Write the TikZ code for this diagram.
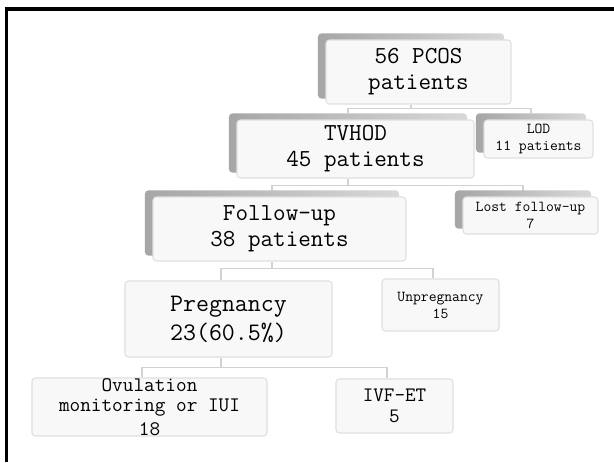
\documentclass[tikz,border=0pt]{standalone}
\usepackage{fontspec}
\usetikzlibrary{calc,backgrounds}
\definecolor{boxfill}{HTML}{F8F8F8}
\definecolor{boxline}{HTML}{E0E0E0}
\definecolor{linkc}{HTML}{D2D2D2}
\definecolor{shadeL}{HTML}{A6A6A6}
\definecolor{shadeR}{HTML}{D8D8D8}
\begin{document}
\begin{tikzpicture}[x=0.75pt,y=-0.75pt,
  box/.style={draw=boxline, fill=boxfill, rounded corners=2.5pt, line width=0.8pt,
              align=center, inner sep=0pt, text=black},
  bx/.style 2 args={minimum width={#1*0.75pt}, minimum height={#2*0.75pt}},
  bigtxt/.style={font=\ttfamily\fontsize{18.3}{19.5}\selectfont},
  pregtxt/.style={font=\ttfamily\fontsize{18.9}{21.7}\selectfont},
  ovtxt/.style={font=\ttfamily\fontsize{15.5}{15.2}\selectfont},
  ivftxt/.style={font=\ttfamily\fontsize{15.4}{15.8}\selectfont},
  smalltxt/.style={font=\ttfamily\fontsize{11.4}{12.8}\selectfont},
  shadowst/.style={left color=shadeL, right color=shadeR, rounded corners=2.5pt},
  link/.style={draw=linkc, line width=1.1pt},
  frame/.style={draw=black, line width=2.4pt}
]
\useasboundingbox (0,0) rectangle (614,462);

% boxes
\node[box,bigtxt,bx={185}{64}] (pcos) at (418.5,72) {56 PCOS\\patients};
\node[box,bigtxt,bx={237}{58}] (tvhod) at (355.5,149) {TVHOD\\45 patients};
\node[box,smalltxt,bx={109}{38}] (lod) at (538.5,139) {LOD\\11 patients};
\node[box,bigtxt,bx={253}{64}] (fup) at (279.5,229) {Follow-up\\38 patients};
\node[box,smalltxt,bx={135}{37}] (lost) at (530.5,215.5) {Lost follow-up\\7};
\node[box,pregtxt,bx={207}{76}] (preg) at (228.5,319) {Pregnancy\\23(60.5\%)};
\node[box,smalltxt,bx={117}{52}] (unp) at (440.5,305) {Unpregnancy\\15};
\node[box,ovtxt,bx={235}{58},inner ysep=-3pt] (ovu) at (149.5,407) {Ovulation\\monitoring or IUI\\[3pt]18};
\node[box,ivftxt,bx={117}{54}] (ivf) at (394.5,406) {IVF-ET\\5};

\begin{scope}[on background layer]
  \fill[white] (0,0) rectangle (614,462);
  % connectors
  \draw[link] ($(pcos.south)+(-7.5,0)$) -- ++(0,4) -| ($(tvhod.north)+(-7.5,-6)$);
  \draw[link] ($(pcos.south)+(-7.5,0)$) -- ++(0,4) -| ($(lod.north)+(-7.5,-6)$);
  \draw[link] ($(tvhod.south)+(-7.5,0)$) -- ++(0,7) -| ($(fup.north)+(-7.5,-5)$);
  \draw[link] ($(tvhod.south)+(-7.5,0)$) -- ++(0,7) -| ($(lost.north)+(-7.5,-5)$);
  \draw[link] ($(fup.south)+(-7.5,0)$) -- ++(0,7) -| ($(preg.north)+(-7.5,0)$);
  \draw[link] ($(fup.south)+(-7.5,0)$) -- ++(0,7) -| ($(unp.north)+(-7.5,0)$);
  \draw[link] ($(preg.south)+(-7.5,0)$) -- ++(0,10) -| ($(ovu.north)+(-7.5,0)$);
  \draw[link] ($(preg.south)+(-7.5,0)$) -- ++(0,10) -| ($(ivf.north)+(-7.5,0)$);
  % shadows
  \foreach \n in {pcos,tvhod,lod,fup,lost}
    \path[shadowst] ([shift={(-7.5,-6)}]\n.north west) rectangle ([shift={(-7.5,-6)}]\n.south east);
\end{scope}

% frame
\draw[frame] (614,9) -- (6.3,9) -- (6.3,462);
\end{tikzpicture}
\end{document}
